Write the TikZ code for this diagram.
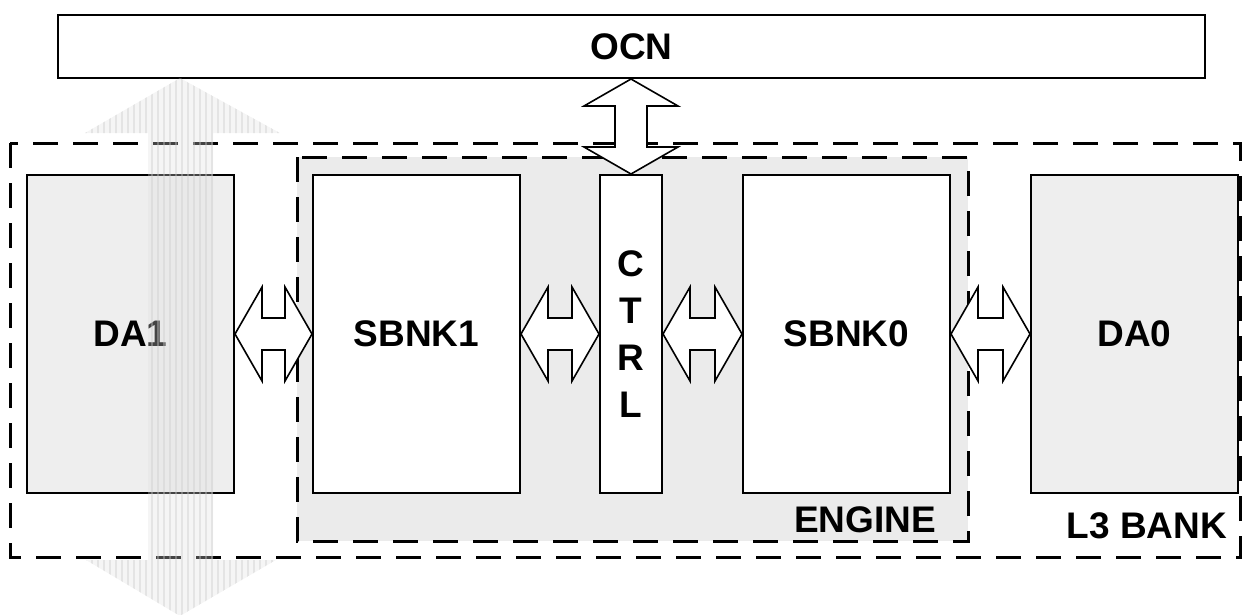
\documentclass[tikz,border=0pt]{standalone}
\usepackage{fontspec}
\setmainfont{Liberation Sans}
\usetikzlibrary{calc}
\definecolor{enginegray}{HTML}{EBEBEB}
\definecolor{dagray}{HTML}{EEEEEE}
\tikzset{
  blk/.style={draw=black, line width=2pt, fill=white, inner sep=0pt, font=\bfseries\fontsize{37}{47}\selectfont, align=center},
  dabox/.style={blk, fill=dagray},
  dashbox/.style={draw=black, line width=3pt, dash pattern=on 25pt off 15pt},
  fatarrow/.style={draw=black, line width=1.6pt, fill=white, line join=miter},
  lbl/.style={font=\bfseries\fontsize{37}{47}\selectfont, inner sep=0pt}
}
\begin{document}
\begin{tikzpicture}[x=1pt,y=-1pt]
\useasboundingbox (0,0) rectangle (1246,614);
% L3 bank and engine frames
\draw[dashbox] (10,143) rectangle (1240,557);
\fill[enginegray] (297,157) rectangle (968,541);
\draw[dashbox] (297,157) rectangle (968,541);
% OCN
\node[blk, minimum width=1147, minimum height=63] (ocn) at (631.5,46.5) {OCN};
% blocks
\node[dabox, minimum width=207, minimum height=318] (da1) at (130.5,334) {DA1};
\node[blk, minimum width=207, minimum height=318] (sbnk1) at (416.5,334) {SBNK1};
\node[blk, minimum width=62, minimum height=318] (ctrl) at (631,334) {C\\T\\R\\L};
\node[blk, minimum width=207, minimum height=318] (sbnk0) at (846.5,334) {SBNK0};
\node[dabox, minimum width=207, minimum height=318] (da0) at (1134.5,334) {DA0};
% labels
\node[lbl] (englbl) at (865,520) {ENGINE};
\node[lbl] (l3lbl) at (1147,526) {L3 BANK};
% horizontal double arrows
\newcommand\hdbl[2]{%
  \draw[fatarrow] (#1.east) -- ++(27,-47) -- ++(0,31) -- ($(#2.west)+(-27,-16)$) -- ++(0,-31) -- (#2.west) -- ++(-27,47) -- ++(0,-31) -- ($(#1.east)+(27,16)$) -- ++(0,31) -- cycle;}
\hdbl{da1}{sbnk1}
\hdbl{sbnk1}{ctrl}
\hdbl{ctrl}{sbnk0}
\hdbl{sbnk0}{da0}
% vertical double arrow OCN <-> CTRL
\coordinate (ocnport) at (ctrl.north |- ocn.south);
\draw[fatarrow] (ocnport) -- ++(-47,27) -- ++(31,0) -- ($(ctrl.north)+(-16,-27)$) -- ++(-31,0) -- (ctrl.north) -- ++(47,-27) -- ++(-31,0) -- ($(ocnport)+(16,27)$) -- ++(31,0) -- cycle;
% faded big vertical arrow
\begin{scope}
  \clip (180,78) -- (85,133) -- (148,133) -- (148,560) -- (86,560) -- (180,616) -- (276,560) -- (213,560) -- (213,133) -- (280,133) -- cycle;
  \fill[gray!25, opacity=0.3] (80,70) rectangle (285,620);
  \foreach \xx in {86,92,...,280} {
    \draw[gray!40, line width=2pt, opacity=0.4] (\xx,70) -- (\xx,620);
  }
\end{scope}
\end{tikzpicture}
\end{document}
